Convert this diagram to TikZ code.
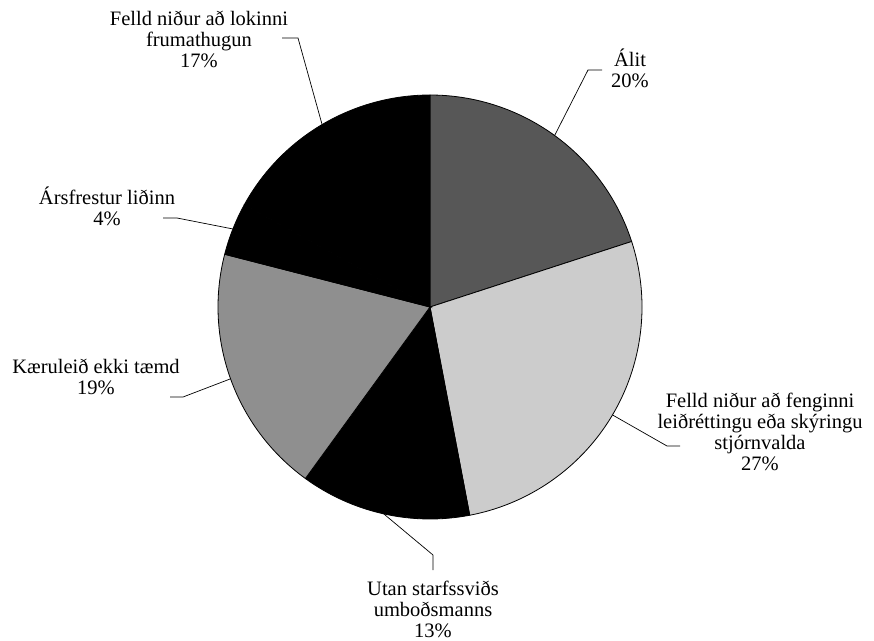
\documentclass[tikz,border=0pt]{standalone}
\usepackage{fontspec}
\setmainfont{Liberation Serif}
\definecolor{alitgray}{gray}{0.34}
\definecolor{fengray}{gray}{0.80}
\definecolor{kaergray}{gray}{0.56}
\begin{document}
\begin{tikzpicture}[x=1pt,y=-1pt,
  lbl/.style={align=center, font=\fontsize{20.5}{21}\selectfont, inner sep=0pt},
  leader/.style={draw=black, line width=0.7pt},
  slice/.style={draw=black, line width=0.8pt}]
\useasboundingbox (0,0) rectangle (874,640);
\begin{scope}[shift={(430,307)}, yscale=-1]
  % clockwise from top
  \filldraw[slice, fill=alitgray] (0,0) -- (90:212) arc[start angle=90, end angle=18, radius=212] -- cycle;
  \filldraw[slice, fill=fengray] (0,0) -- (18:212) arc[start angle=18, end angle=-79.2, radius=212] -- cycle;
  \filldraw[slice, fill=black] (0,0) -- (-79.2:212) arc[start angle=-79.2, end angle=-126, radius=212] -- cycle;
  \filldraw[slice, fill=kaergray] (0,0) -- (-126:212) arc[start angle=-126, end angle=-194.4, radius=212] -- cycle;
  \filldraw[slice, fill=black] (0,0) -- (165.6:212) arc[start angle=165.6, end angle=151.2, radius=212] -- cycle;
  \filldraw[slice, fill=black] (0,0) -- (151.2:212) arc[start angle=151.2, end angle=90, radius=212] -- cycle;
  \coordinate (pA) at (54:212);
  \coordinate (pB) at (-30.6:212);
  \coordinate (pC) at (-102.6:212);
  \coordinate (pD) at (199.8:212);
  \coordinate (pE) at (158.4:212);
  \coordinate (pF) at (120.6:212);
\end{scope}

\node[lbl] (tA) at (630,68) {Álit\\20\%};
\node[lbl] (tB) at (760,432) {Felld niður að fenginni\\leiðréttingu eða skýringu\\stjórnvalda\\27\%};
\node[lbl] (tC) at (433,609) {Utan starfssviðs\\umboðsmanns\\13\%};
\node[lbl] (tD) at (96,377) {Kæruleið ekki tæmd\\19\%};
\node[lbl] (tE) at (107,206) {Ársfrestur liðinn\\4\%};
\node[lbl] (tF) at (199,39) {Felld niður að lokinni\\frumathugun\\17\%};

\coordinate (eA1) at (588,70); \coordinate (eA2) at (602,70);
\coordinate (eB1) at (667,446); \coordinate (eB2) at (680,446);
\coordinate (eC1) at (433,555); \coordinate (eC2) at (433,570);
\coordinate (eD1) at (183,397); \coordinate (eD2) at (170,397);
\coordinate (eE1) at (177,218); \coordinate (eE2) at (163,218);
\coordinate (eF1) at (298,38); \coordinate (eF2) at (282,38);

\draw[leader] (pA) -- (eA1) -- (eA2);
\draw[leader] (pB) -- (eB1) -- (eB2);
\draw[leader] (pC) -- (eC1) -- (eC2);
\draw[leader] (pD) -- (eD1) -- (eD2);
\draw[leader] (pE) -- (eE1) -- (eE2);
\draw[leader] (pF) -- (eF1) -- (eF2);
\end{tikzpicture}
\end{document}
